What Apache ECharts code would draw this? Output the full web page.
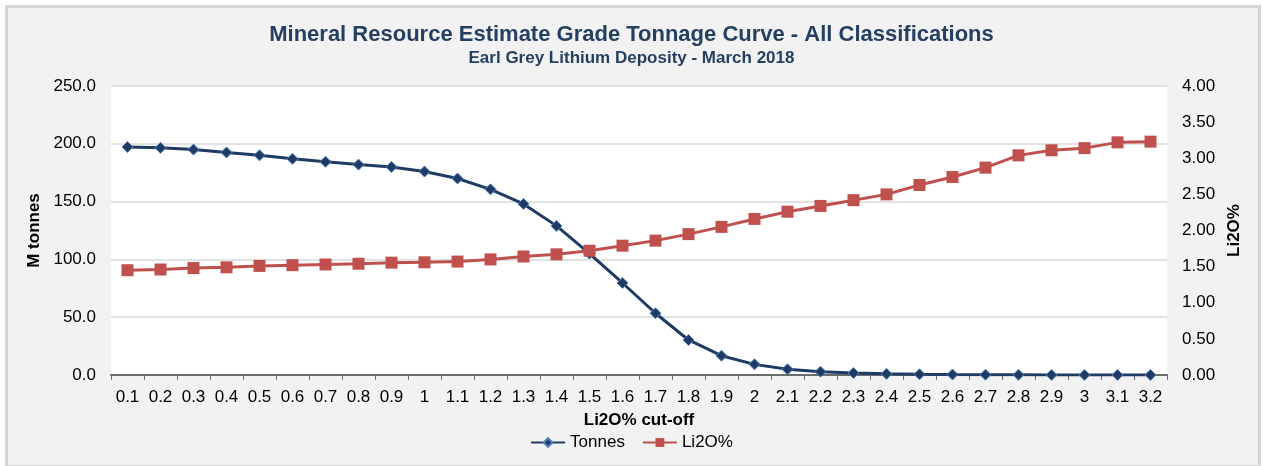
<!DOCTYPE html>
<html>
<head>
<meta charset="utf-8">
<script src="https://cdn.jsdelivr.net/npm/echarts@6/dist/echarts.min.js"></script>
<style>
  html, body { margin: 0; padding: 0; background: #fff; }
  #frame { position: absolute; left: 5px; top: 5px; width: 1250px; height: 457px;
           border: 3px solid #d4d4d4; background: #f2f2f2; }
  #main { position: absolute; left: 0; top: 0; width: 1263px; height: 466px; }
</style>
</head>
<body>
<div id="frame"></div>
<div id="main"></div>
<script>
// cut-off grades (x axis)
var cutoffs = ['0.1','0.2','0.3','0.4','0.5','0.6','0.7','0.8','0.9','1',
  '1.1','1.2','1.3','1.4','1.5','1.6','1.7','1.8','1.9','2',
  '2.1','2.2','2.3','2.4','2.5','2.6','2.7','2.8','2.9','3','3.1','3.2'];

// M tonnes above cut-off
var tonnes = [197.2, 196.5, 195.0, 192.5, 190.0, 187.0, 184.5, 182.0, 180.0, 176.0,
  170.0, 160.6, 148.0, 129.0, 105.0, 79.6, 53.4, 30.3, 16.7, 9.2,
  4.9, 2.9, 1.7, 1.0, 0.6, 0.4, 0.3, 0.2, 0.1, 0.1, 0.1, 0.05];

// average grade Li2O% above cut-off
var grade = [1.45, 1.46, 1.48, 1.49, 1.51, 1.52, 1.53, 1.54, 1.555, 1.56,
  1.57, 1.60, 1.64, 1.67, 1.72, 1.79, 1.86, 1.95, 2.05, 2.16,
  2.26, 2.34, 2.42, 2.50, 2.63, 2.74, 2.87, 3.04, 3.11, 3.14, 3.22, 3.23];

var chart = echarts.init(document.getElementById('main'));
var fam = 'Arial, "Liberation Sans", sans-serif';

chart.setOption({
  animation: false,
  textStyle: { fontFamily: fam },
  title: [{
    text: 'Mineral Resource Estimate Grade Tonnage Curve - All Classifications',
    left: 'center',
    top: 19,
    textStyle: { fontSize: 22, fontWeight: 'bold', color: '#243f60', fontFamily: fam }
  }, {
    text: 'Earl Grey Lithium Deposity - March 2018',
    left: 'center',
    top: 45,
    textStyle: { fontSize: 17, fontWeight: 'bold', color: '#243f60', fontFamily: fam }
  }],
  grid: {
    left: 111, right: 96, top: 86, bottom: 91,
    show: true, backgroundColor: '#ffffff', borderWidth: 0
  },
  legend: {
    top: 429,
    left: 'center',
    itemWidth: 34,
    itemHeight: 11,
    itemGap: 17,
    textStyle: { fontSize: 17, color: '#000', fontFamily: fam },
    data: ['Tonnes', 'Li2O%']
  },
  xAxis: {
    type: 'category',
    data: cutoffs,
    name: 'Li2O% cut-off',
    nameLocation: 'middle',
    nameGap: 37,
    nameTextStyle: { fontSize: 17, fontWeight: 'bold', color: '#000' },
    axisLine: { lineStyle: { color: '#6b6b6b', width: 2 } },
    axisTick: { show: true, length: 5, lineStyle: { color: '#6b6b6b' } },
    axisLabel: { fontSize: 17, color: '#000', margin: 14, interval: 0 }
  },
  yAxis: [{
    type: 'value',
    min: 0, max: 250, interval: 50,
    name: 'M tonnes',
    nameLocation: 'middle',
    nameRotate: 90,
    nameGap: 68,
    nameTextStyle: { fontSize: 17, fontWeight: 'bold', color: '#000' },
    axisLine: { show: false },
    axisTick: { show: false },
    axisLabel: { fontSize: 17, color: '#000', margin: 15,
      formatter: function (v) { return v.toFixed(1); } },
    splitLine: { lineStyle: { color: '#d9d9d9', width: 1.5 } }
  }, {
    type: 'value',
    min: 0, max: 4, interval: 0.5,
    name: 'Li2O%',
    nameLocation: 'middle',
    nameRotate: 90,
    nameGap: 58,
    nameTextStyle: { fontSize: 17, fontWeight: 'bold', color: '#000' },
    axisLine: { show: false },
    axisTick: { show: false },
    axisLabel: { fontSize: 17, color: '#000', margin: 15,
      formatter: function (v) { return v.toFixed(2); } },
    splitLine: { show: false }
  }],
  series: [{
    name: 'Tonnes',
    type: 'line',
    yAxisIndex: 0,
    data: tonnes,
    symbol: 'diamond',
    symbolSize: 11,
    lineStyle: { color: '#1f3b63', width: 3 },
    itemStyle: { color: '#1f3b63', borderColor: '#4f81bd', borderWidth: 1 }
  }, {
    name: 'Li2O%',
    type: 'line',
    yAxisIndex: 1,
    data: grade,
    symbol: 'rect',
    symbolSize: 12,
    lineStyle: { color: '#c0504d', width: 3 },
    itemStyle: { color: '#c0504d' }
  }]
});
</script>
</body>
</html>
